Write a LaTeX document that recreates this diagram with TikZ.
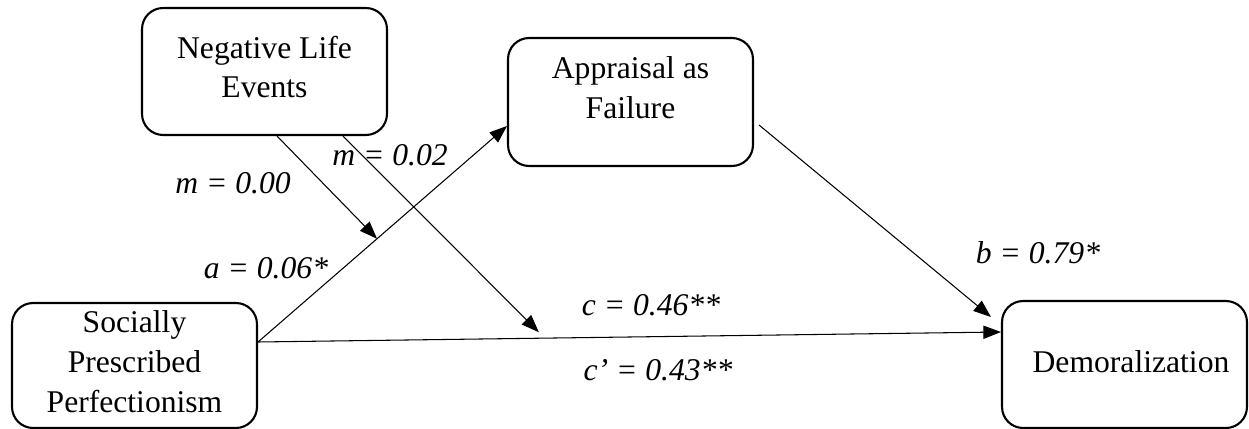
\documentclass[tikz,border=0pt]{standalone}
\usepackage{fontspec}
\setmainfont{Liberation Serif}
\usetikzlibrary{arrows.meta, calc}

\tikzset{
  box/.style={rectangle, rounded corners=12pt, draw, line width=1.2pt, minimum width=4.9cm, minimum height=2.54cm},
  boxtext/.style={align=center, inner sep=0pt, font=\fontsize{18}{22.7}\selectfont},
  link/.style={-{Triangle[length=10pt,width=7.5pt]}, line width=0.6pt},
  coef/.style={inner sep=0pt, font=\fontsize{18}{22}\selectfont\itshape}
}

\begin{document}
\begin{tikzpicture}[x=0.02cm, y=-0.02cm]
  \useasboundingbox (0,0) rectangle (1249,429);

  % boxes
  \node[box] (nle) at (264.5,71.5) {};
  \node[boxtext] (nletext) at ($(nle.center)+(0,-4.5)$) {Negative Life\\Events};
  \node[box, minimum height=2.5cm] (spp) at (134.5,365.5) {};
  \node[boxtext] (spptext) at ($(spp.center)+(0,-3.5)$) {Socially\\Prescribed\\Perfectionism};
  \node[box, minimum height=2.56cm] (appr) at (630.5,102) {};
  \node[boxtext] (apprtext) at ($(appr.center)+(0,-14)$) {Appraisal as\\Failure};
  \node[box] (dem) at (1124.5,364.5) {};
  \node[boxtext] (demtext) at ($(dem.center)+(6.5,-2.5)$) {Demoralization};

  % arrow ends
  \coordinate (sppout) at ($(spp.east)+(0,-23.5)$);
  \coordinate (apprin) at ($(appr.west)+(0,24)$);
  \coordinate (demin) at ($(dem.west)+(0,-32.5)$);
  \coordinate (approut) at ($(appr.east)+(5,23)$);
  \coordinate (demcorner) at ($(dem.north west)+(-10,17)$);
  \coordinate (nleout1) at ($(nle.south)+(12.5,0)$);
  \coordinate (nleout2) at ($(nle.south)+(78.5,0)$);
  \coordinate (onpatha) at ($(sppout)!0.478!(apprin)$);
  \coordinate (abovec) at ($(sppout)!0.378!(demin)+(0,-6)$);

  \draw[link] (sppout) -- (apprin);
  \draw[link] (sppout) -- (demin);
  \draw[link] (approut) -- (demcorner);
  \draw[link] (nleout1) -- (onpatha);
  \draw[link] (nleout2) -- (abovec);

  % coefficients
  \node[coef] (m1) at (233,183) {m = 0.00};
  \node[coef] (m2) at (390,155) {m = 0.02};
  \node[coef] (a) at (266,268) {a = 0.06*};
  \node[coef] (c) at (651,305) {c = 0.46**};
  \node[coef] (cp) at (658,370) {c’ = 0.43**};
  \node[coef] (b) at (1038,253) {b = 0.79*};
\end{tikzpicture}
\end{document}
